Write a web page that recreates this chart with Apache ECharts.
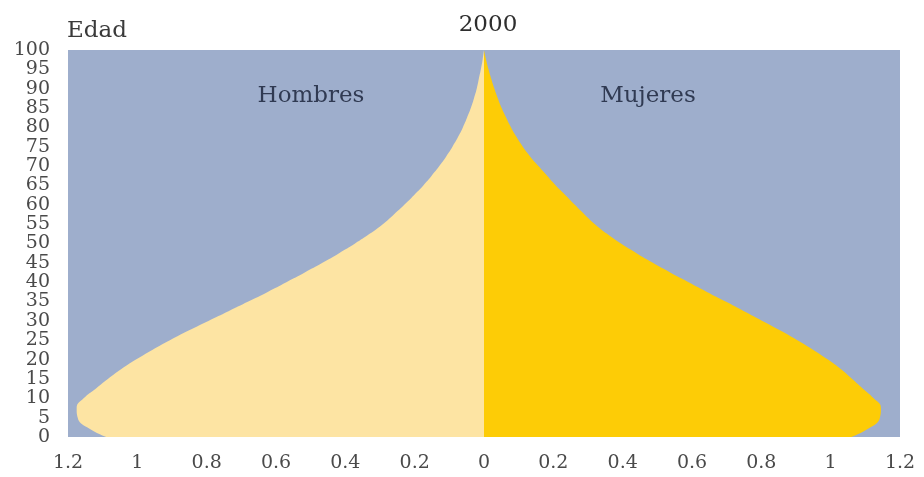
<!DOCTYPE html>
<html>
<head>
<meta charset="utf-8">
<script src="https://cdn.jsdelivr.net/npm/echarts@6/dist/echarts.min.js"></script>
<style>html,body{margin:0;padding:0;background:#fff}#c{width:924px;height:477px}</style>
</head>
<body>
<div id="c"></div>
<script>
const ages = [0,2.5,5,7.5,10,12.5,15,17.5,20,22.5,25,27.5,30,32.5,35,37.5,40,42.5,45,47.5,50,52.5,55,57.5,60,62.5,65,67.5,70,72.5,75,77.5,80,82.5,85,87.5,90,92.5,95,97.5,100];
const hombres = [1.09,1.145,1.172,1.175,1.155,1.12,1.085,1.047,1.004,0.957,0.906,0.852,0.795,0.737,0.68,0.624,0.57,0.517,0.466,0.418,0.372,0.33,0.292,0.26,0.23,0.202,0.175,0.151,0.129,0.109,0.091,0.075,0.061,0.049,0.038,0.029,0.021,0.015,0.009,0.004,0];
const mujeres = [1.06,1.115,1.142,1.145,1.124,1.093,1.062,1.03,0.992,0.95,0.904,0.855,0.803,0.75,0.697,0.643,0.59,0.537,0.487,0.44,0.395,0.355,0.32,0.29,0.262,0.235,0.207,0.182,0.157,0.133,0.112,0.094,0.078,0.064,0.051,0.04,0.03,0.021,0.013,0.006,0];

const chart = echarts.init(document.getElementById('c'));
const serif = '"DejaVu Serif", "Liberation Serif", serif';
chart.setOption({
  animation: false,
  graphic: [
    {type: 'text', x: 488, y: 25, z: 10, style: {text: '2000', font: '23px ' + serif, fill: '#2e2e2e', align: 'center', verticalAlign: 'middle'}},
    {type: 'text', x: 67, y: 31, z: 10, style: {text: 'Edad', font: '23px ' + serif, fill: '#3a3a3a', align: 'left', verticalAlign: 'middle'}},
    {type: 'text', x: 311, y: 96, z: 10, style: {text: 'Hombres', font: '23px ' + serif, fill: '#303a52', align: 'center', verticalAlign: 'middle'}},
    {type: 'text', x: 648, y: 96, z: 10, style: {text: 'Mujeres', font: '23px ' + serif, fill: '#303a52', align: 'center', verticalAlign: 'middle'}}
  ],
  grid: {left: 68, right: 24, top: 50, bottom: 40, show: true, backgroundColor: '#9eaecc', borderWidth: 0},
  xAxis: {
    type: 'value', min: -1.2, max: 1.2, interval: 0.2,
    axisLine: {show: false}, axisTick: {show: false}, splitLine: {show: false},
    axisLabel: {
      margin: 17, fontFamily: serif, fontSize: 19, color: '#4a4a4a',
      formatter: v => String(Math.round(Math.abs(v) * 10) / 10)
    }
  },
  yAxis: {
    type: 'category', data: ages.map(String), boundaryGap: false,
    axisLine: {show: false}, axisTick: {show: false}, splitLine: {show: false},
    axisLabel: {interval: 1, margin: 18, fontFamily: serif, fontSize: 19, lineHeight: 16, color: '#4a4a4a'}
  },
  series: [
    {name: 'Hombres', type: 'line', smooth: 0.5, symbol: 'none', lineStyle: {width: 0},
     areaStyle: {color: '#fde4a3', opacity: 1}, data: hombres.map(v => -v)},
    {name: 'Mujeres', type: 'line', smooth: 0.5, symbol: 'none', lineStyle: {width: 0},
     areaStyle: {color: '#fdcc06', opacity: 1}, data: mujeres}
  ]
});
</script>
</body>
</html>
